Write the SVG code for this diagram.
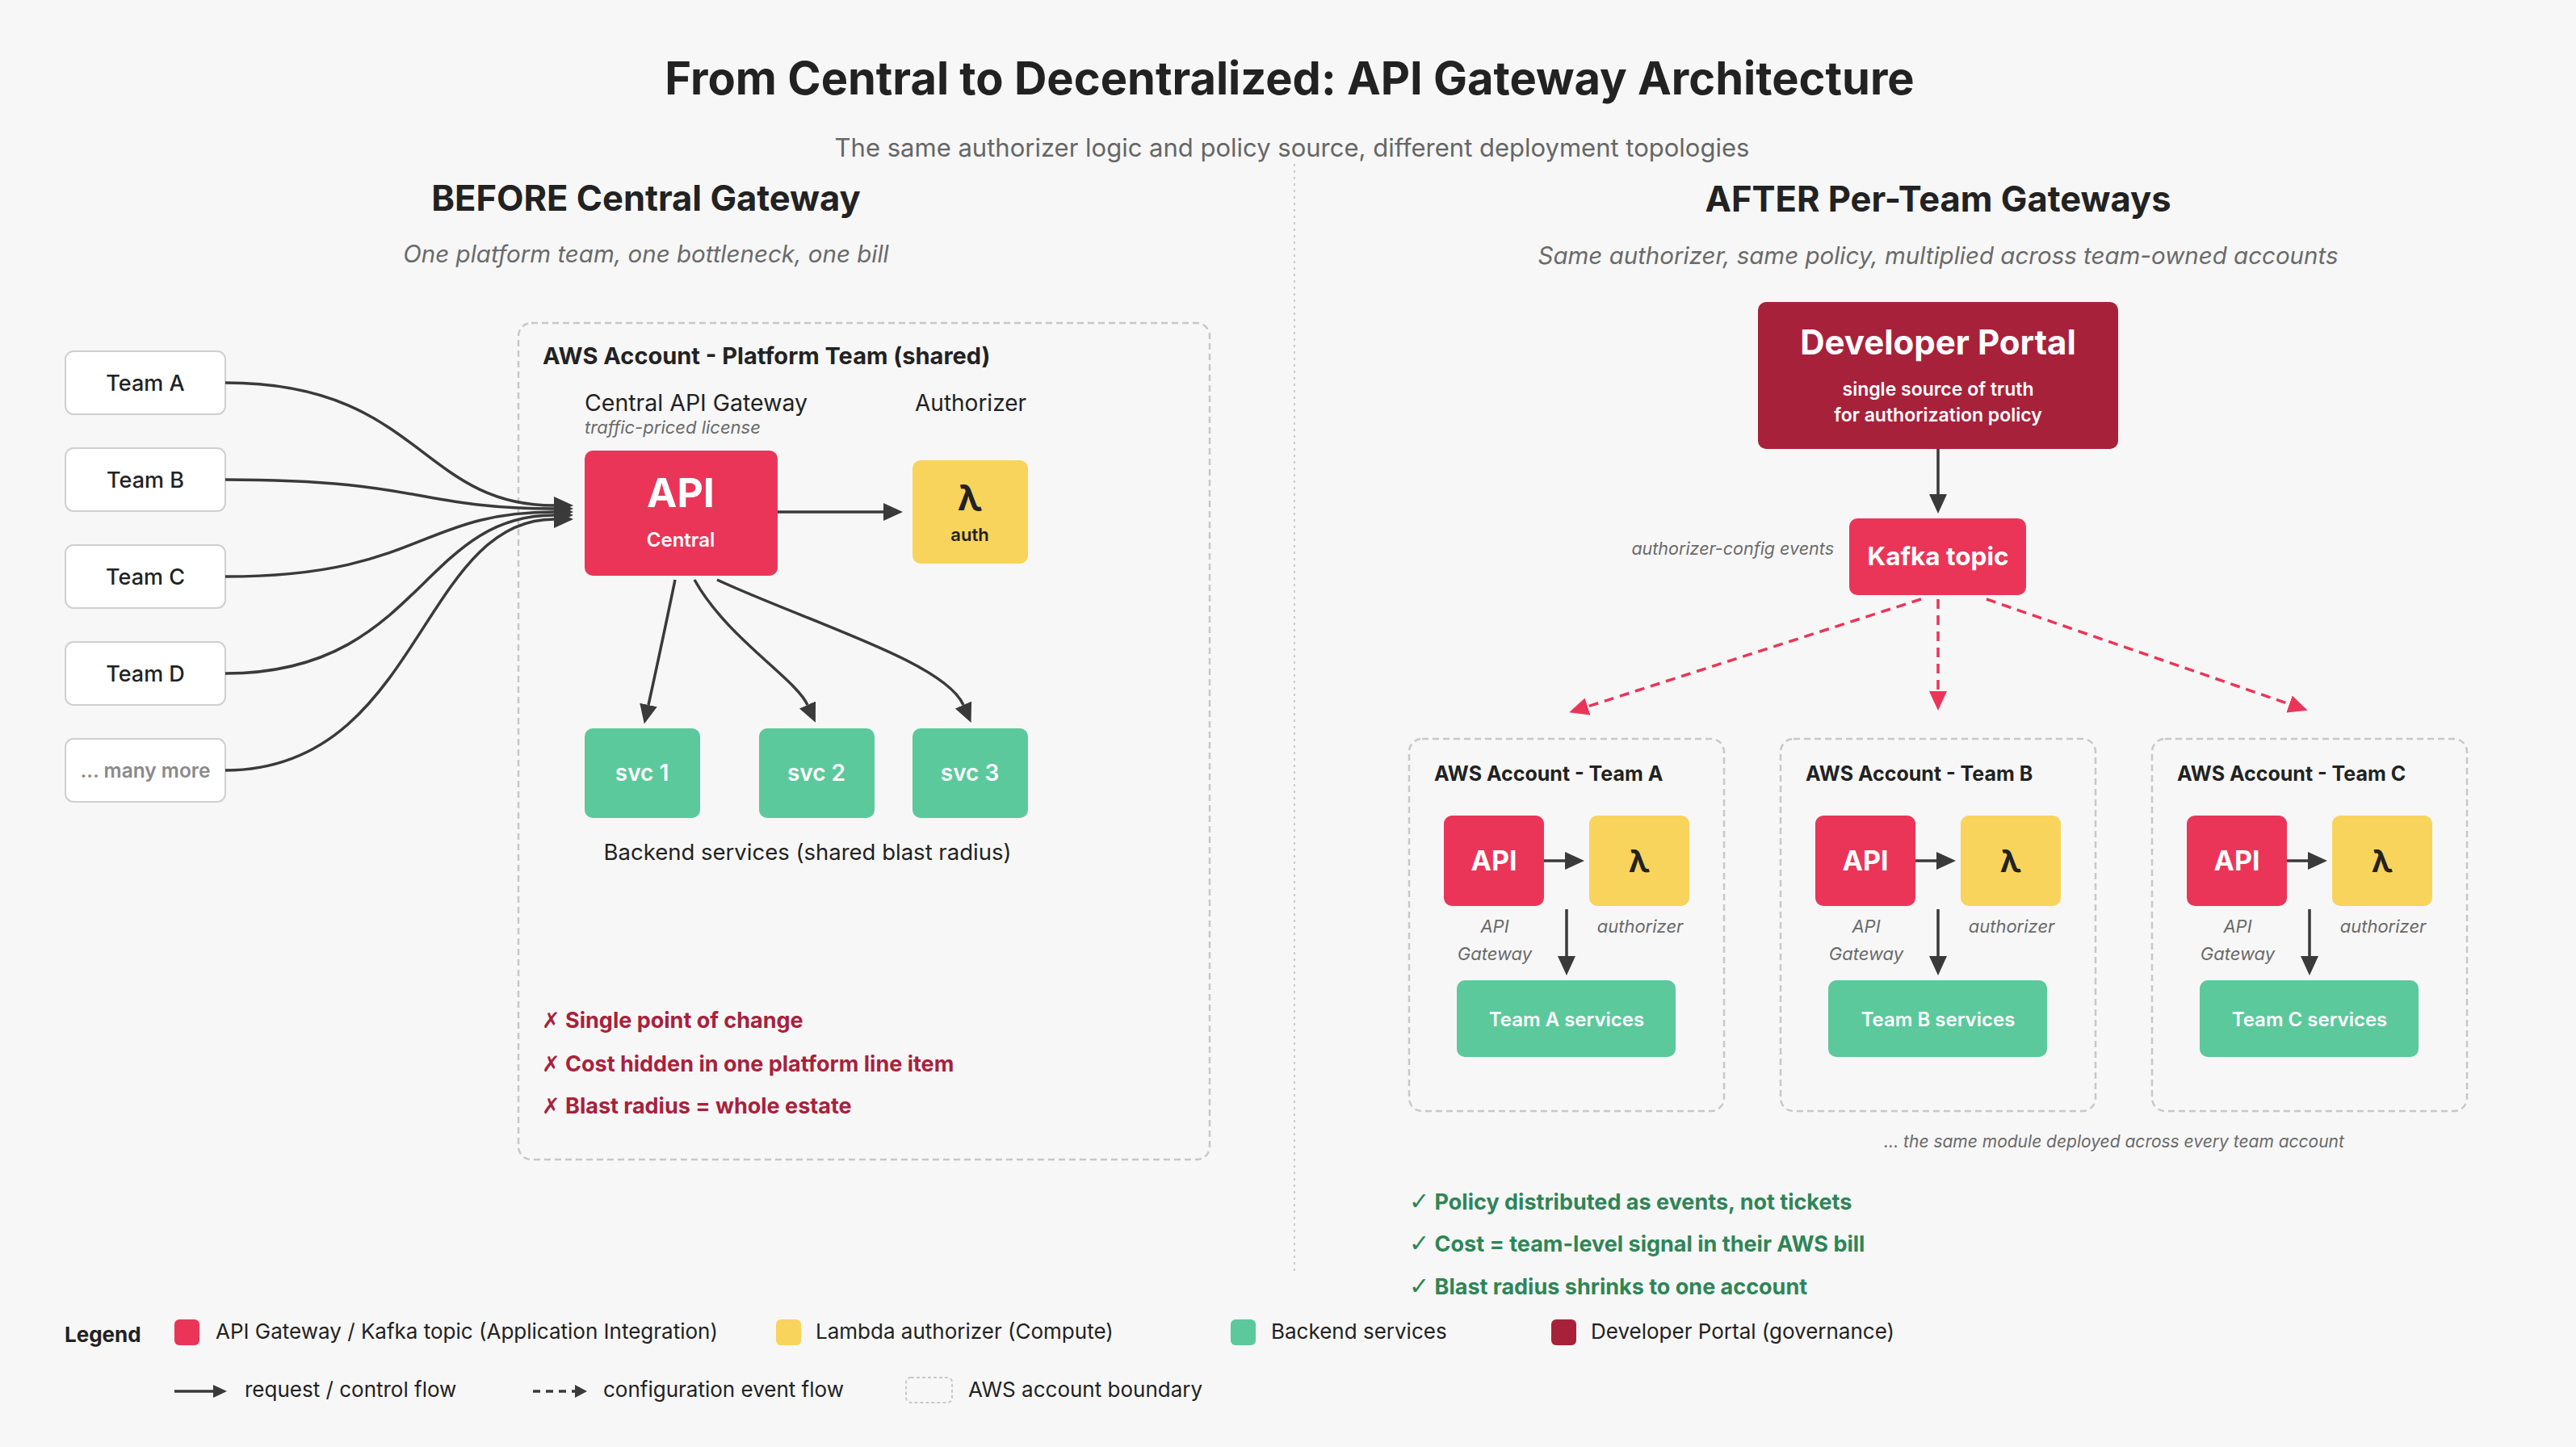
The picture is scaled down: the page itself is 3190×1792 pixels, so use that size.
<svg xmlns="http://www.w3.org/2000/svg" width="3190" height="1792" viewBox="0 0 3190 1792">
<defs>
<style>
text{font-family:Inter,"Liberation Sans","DejaVu Sans",sans-serif;}
.title{font-size:56px;font-weight:700;fill:#222;}
.sub{font-size:31px;fill:#666;}
.h2{font-size:43.5px;font-weight:700;fill:#222;}
.ital{font-style:italic;fill:#6a6a6a;}
.dark{fill:#222;}
.white{fill:#fff;}
.team{fill:#fff;stroke:#cfcfcf;stroke-width:2;}
.acct{fill:none;stroke:#c8c8c8;stroke-width:2.5;stroke-dasharray:8 5;}
.api{fill:#eb3558;}
.lam{fill:#f8d45c;}
.svc{fill:#5bc99c;}
.portal{fill:#a8213b;}
.flow{fill:none;stroke:#3a3a3a;stroke-width:3.5;}
.evt{fill:none;stroke:#eb3558;stroke-width:3.5;stroke-dasharray:12 8;}
.bad{font-size:27px;font-weight:700;fill:#a8213b;}
.good{font-size:27px;font-weight:700;fill:#2e8556;}
.sym{font-family:"DejaVu Sans",sans-serif;font-weight:400;}
.chk{font-family:"DejaVu Sans",sans-serif;font-weight:400;font-size:30px;}
.leg{font-size:26px;fill:#222;}
</style>
<marker id="ah" viewBox="0 0 24 24" markerWidth="24" markerHeight="24" markerUnits="userSpaceOnUse" refX="0" refY="12" orient="auto">
<path d="M0,1 L24,12 L0,23 z" fill="#3a3a3a"/>
</marker>
<marker id="ahr" viewBox="0 0 24 24" markerWidth="24" markerHeight="24" markerUnits="userSpaceOnUse" refX="0" refY="12" orient="auto">
<path d="M0,1 L24,12 L0,23 z" fill="#eb3558"/>
</marker>
</defs>

<rect x="0" y="0" width="3190" height="1792" fill="#f7f7f7"/>

<g id="header">
<text class="title" x="1597" y="117" text-anchor="middle">From Central to Decentralized: API Gateway Architecture</text>
<text class="sub" x="1600" y="194" text-anchor="middle">The same authorizer logic and policy source, different deployment topologies</text>
<text class="h2" x="800" y="261" text-anchor="middle">BEFORE Central Gateway</text>
<text class="ital" x="800" y="325" text-anchor="middle" font-size="29.5">One platform team, one bottleneck, one bill</text>
<text class="h2" x="2400" y="262" text-anchor="middle">AFTER Per-Team Gateways</text>
<text class="ital" x="2400" y="327" text-anchor="middle" font-size="29.5">Same authorizer, same policy, multiplied across team-owned accounts</text>
<line x1="1603" y1="203" x2="1603" y2="1577" stroke="#cccccc" stroke-width="2" stroke-dasharray="3 5"/>
</g>

<g id="platform-account">
<rect class="acct" x="642" y="400" width="856" height="1036" rx="16"/>
<text x="672" y="451" font-size="29" font-weight="700" class="dark">AWS Account - Platform Team (shared)</text>
<text x="724" y="509" font-size="28.5" class="dark">Central API Gateway</text>
<text x="724" y="537" font-size="22" class="ital">traffic-priced license</text>
<text x="1133" y="509" font-size="28" class="dark">Authorizer</text>
<text x="1000" y="1065" font-size="27.5" text-anchor="middle" class="dark">Backend services (shared blast radius)</text>
</g>

<g id="team-a"><rect class="team" x="81" y="435" width="198" height="78" rx="10"/><text x="180" y="484" font-size="27" font-weight="500" text-anchor="middle" class="dark">Team A</text></g>
<g id="team-b"><rect class="team" x="81" y="555" width="198" height="78" rx="10"/><text x="180" y="604" font-size="27" font-weight="500" text-anchor="middle" class="dark">Team B</text></g>
<g id="team-c"><rect class="team" x="81" y="675" width="198" height="78" rx="10"/><text x="180" y="724" font-size="27" font-weight="500" text-anchor="middle" class="dark">Team C</text></g>
<g id="team-d"><rect class="team" x="81" y="795" width="198" height="78" rx="10"/><text x="180" y="844" font-size="27" font-weight="500" text-anchor="middle" class="dark">Team D</text></g>
<g id="team-more"><rect class="team" x="81" y="915" width="198" height="78" rx="10"/><text x="180" y="963" font-size="24.5" font-weight="600" text-anchor="middle" fill="#8a8a8a">... many more</text></g>

<g id="central-api">
<rect class="api" x="724" y="558" width="239" height="155" rx="10"/>
<text x="843" y="628" font-size="50" font-weight="700" text-anchor="middle" class="white">API</text>
<text x="843" y="677" font-size="24" font-weight="600" text-anchor="middle" class="white">Central</text>
</g>
<g id="central-auth">
<rect class="lam" x="1130" y="570" width="143" height="128" rx="10"/>
<text x="1201" y="632" font-size="44" font-weight="700" text-anchor="middle" fill="#222">λ</text>
<text x="1201" y="670" font-size="22" font-weight="600" text-anchor="middle" fill="#222">auth</text>
</g>
<g id="svc1"><rect class="svc" x="724" y="902" width="143" height="111" rx="10"/><text x="795" y="967" font-size="28" font-weight="600" text-anchor="middle" class="white">svc 1</text></g>
<g id="svc2"><rect class="svc" x="940" y="902" width="143" height="111" rx="10"/><text x="1011" y="967" font-size="28" font-weight="600" text-anchor="middle" class="white">svc 2</text></g>
<g id="svc3"><rect class="svc" x="1130" y="902" width="143" height="111" rx="10"/><text x="1201" y="967" font-size="28" font-weight="600" text-anchor="middle" class="white">svc 3</text></g>

<g id="before-notes">
<text class="bad" x="671" y="1273"><tspan class="sym">✗</tspan> Single point of change</text>
<text class="bad" x="671" y="1327"><tspan class="sym">✗</tspan> Cost hidden in one platform line item</text>
<text class="bad" x="671" y="1379"><tspan class="sym">✗</tspan> Blast radius = whole estate</text>
</g>

<g id="developer-portal">
<rect class="portal" x="2177" y="374" width="446" height="182" rx="10"/>
<text x="2400" y="439" font-size="42" font-weight="700" text-anchor="middle" class="white">Developer Portal</text>
<text x="2400" y="490" font-size="23" font-weight="600" text-anchor="middle" class="white">single source of truth</text>
<text x="2400" y="522" font-size="23" font-weight="600" text-anchor="middle" class="white">for authorization policy</text>
</g>
<g id="kafka-topic">
<rect class="api" x="2290" y="642" width="219" height="95" rx="10"/>
<text x="2400" y="700" font-size="31.5" font-weight="700" text-anchor="middle" class="white">Kafka topic</text>
<text x="2271" y="687" font-size="21.5" text-anchor="end" class="ital">authorizer-config events</text>
</g>

<g id="account-team-a">
<rect class="acct" x="1745" y="915" width="390" height="461" rx="16"/>
<text x="1776" y="967" font-size="25" font-weight="700" class="dark">AWS Account - Team A</text>
<rect class="api" x="1788" y="1010" width="124" height="112" rx="10"/>
<text x="1850" y="1078" font-size="34" font-weight="700" text-anchor="middle" class="white">API</text>
<rect class="lam" x="1968" y="1010" width="124" height="112" rx="10"/>
<text x="2030" y="1080" font-size="38" font-weight="700" text-anchor="middle" fill="#222">λ</text>
<text x="1851" y="1155" font-size="22" text-anchor="middle" class="ital">API</text>
<text x="1851" y="1189" font-size="22" text-anchor="middle" class="ital">Gateway</text>
<text x="2031" y="1155" font-size="22" text-anchor="middle" class="ital">authorizer</text>
<rect class="svc" x="1804" y="1214" width="271" height="95" rx="10"/>
<text x="1940" y="1271" font-size="24" font-weight="600" text-anchor="middle" class="white">Team A services</text>
</g>
<g id="account-team-b">
<rect class="acct" x="2205" y="915" width="390" height="461" rx="16"/>
<text x="2236" y="967" font-size="25" font-weight="700" class="dark">AWS Account - Team B</text>
<rect class="api" x="2248" y="1010" width="124" height="112" rx="10"/>
<text x="2310" y="1078" font-size="34" font-weight="700" text-anchor="middle" class="white">API</text>
<rect class="lam" x="2428" y="1010" width="124" height="112" rx="10"/>
<text x="2490" y="1080" font-size="38" font-weight="700" text-anchor="middle" fill="#222">λ</text>
<text x="2311" y="1155" font-size="22" text-anchor="middle" class="ital">API</text>
<text x="2311" y="1189" font-size="22" text-anchor="middle" class="ital">Gateway</text>
<text x="2491" y="1155" font-size="22" text-anchor="middle" class="ital">authorizer</text>
<rect class="svc" x="2264" y="1214" width="271" height="95" rx="10"/>
<text x="2400" y="1271" font-size="24" font-weight="600" text-anchor="middle" class="white">Team B services</text>
</g>
<g id="account-team-c">
<rect class="acct" x="2665" y="915" width="390" height="461" rx="16"/>
<text x="2696" y="967" font-size="25" font-weight="700" class="dark">AWS Account - Team C</text>
<rect class="api" x="2708" y="1010" width="124" height="112" rx="10"/>
<text x="2770" y="1078" font-size="34" font-weight="700" text-anchor="middle" class="white">API</text>
<rect class="lam" x="2888" y="1010" width="124" height="112" rx="10"/>
<text x="2950" y="1080" font-size="38" font-weight="700" text-anchor="middle" fill="#222">λ</text>
<text x="2771" y="1155" font-size="22" text-anchor="middle" class="ital">API</text>
<text x="2771" y="1189" font-size="22" text-anchor="middle" class="ital">Gateway</text>
<text x="2951" y="1155" font-size="22" text-anchor="middle" class="ital">authorizer</text>
<rect class="svc" x="2724" y="1214" width="271" height="95" rx="10"/>
<text x="2860" y="1271" font-size="24" font-weight="600" text-anchor="middle" class="white">Team C services</text>
</g>

<g id="after-notes">
<text x="2618" y="1421" font-size="21" text-anchor="middle" class="ital">... the same module deployed across every team account</text>
<text class="good" x="1745" y="1498"><tspan class="chk">✓</tspan> Policy distributed as events, not tickets</text>
<text class="good" x="1745" y="1550"><tspan class="chk">✓</tspan> Cost = team-level signal in their AWS bill</text>
<text class="good" x="1745" y="1603"><tspan class="chk">✓</tspan> Blast radius shrinks to one account</text>
</g>

<g id="connectors">
<path class="flow" marker-end="url(#ah)" d="M279,474 C520,474 520,626 686,626"/>
<path class="flow" marker-end="url(#ah)" d="M279,594 C520,594 520,630 686,630"/>
<path class="flow" marker-end="url(#ah)" d="M279,714 C520,714 520,634 686,634"/>
<path class="flow" marker-end="url(#ah)" d="M279,834 C520,834 520,638 686,638"/>
<path class="flow" marker-end="url(#ah)" d="M279,954 C520,954 520,643 686,643"/>
<path class="flow" marker-end="url(#ah)" d="M963,634 L1094,634"/>
<path class="flow" marker-end="url(#ah)" d="M836,718 Q818,805 803,873"/>
<path class="flow" marker-end="url(#ah)" d="M860,718 C900,790 985,840 1000,873"/>
<path class="flow" marker-end="url(#ah)" d="M888,718 C1000,770 1170,820 1193,873"/>
<path class="flow" marker-end="url(#ah)" d="M2400,556 L2400,612"/>
<path class="evt" marker-end="url(#ahr)" d="M2379,742 L1966,875"/>
<path class="evt" marker-end="url(#ahr)" d="M2400,742 L2400,856"/>
<path class="evt" marker-end="url(#ahr)" d="M2460,742 L2835,872"/>
<path class="flow" marker-end="url(#ah)" d="M1912,1066 L1938,1066"/>
<path class="flow" marker-end="url(#ah)" d="M1940,1126 L1940,1184"/>
<path class="flow" marker-end="url(#ah)" d="M2372,1066 L2398,1066"/>
<path class="flow" marker-end="url(#ah)" d="M2400,1126 L2400,1184"/>
<path class="flow" marker-end="url(#ah)" d="M2832,1066 L2858,1066"/>
<path class="flow" marker-end="url(#ah)" d="M2860,1126 L2860,1184"/>
</g>

<g id="legend">
<text class="leg" x="80" y="1662" font-weight="700">Legend</text>
<rect x="216" y="1634" width="31" height="32" rx="6" class="api"/>
<text class="leg" x="267" y="1658">API Gateway / Kafka topic (Application Integration)</text>
<rect x="961" y="1634" width="31" height="32" rx="6" class="lam"/>
<text class="leg" x="1010" y="1658">Lambda authorizer (Compute)</text>
<rect x="1524" y="1634" width="31" height="32" rx="6" class="svc"/>
<text class="leg" x="1574" y="1658">Backend services</text>
<rect x="1921" y="1634" width="31" height="32" rx="6" class="portal"/>
<text class="leg" x="1970" y="1658">Developer Portal (governance)</text>
<line x1="216" y1="1723" x2="265" y2="1723" stroke="#3a3a3a" stroke-width="3.5"/>
<path d="M264,1715 L281,1723 L264,1731 z" fill="#3a3a3a"/>
<text class="leg" x="303" y="1730">request / control flow</text>
<line x1="660" y1="1723" x2="712" y2="1723" stroke="#3a3a3a" stroke-width="3.5" stroke-dasharray="9 7"/>
<path d="M712,1715 L727,1723 L712,1731 z" fill="#3a3a3a"/>
<text class="leg" x="747" y="1730">configuration event flow</text>
<rect x="1122" y="1706" width="57" height="31" rx="6" fill="none" stroke="#c8c8c8" stroke-width="2" stroke-dasharray="4 3"/>
<text class="leg" x="1199" y="1730">AWS account boundary</text>
</g>
</svg>
